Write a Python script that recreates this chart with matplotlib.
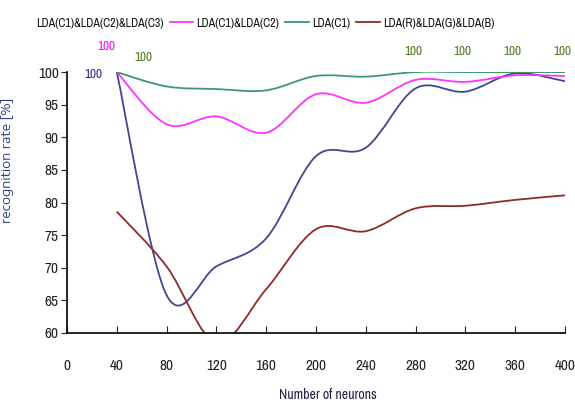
import numpy as np
import matplotlib.pyplot as plt
from matplotlib.path import Path
from matplotlib.patches import PathPatch
from matplotlib.lines import Line2D

plt.rcParams['font.family'] = ['Archivo Narrow', 'Liberation Sans', 'DejaVu Sans']

# данные
neurons = [40, 80, 120, 160, 200, 240, 280, 320, 360, 400]
lda_c123 = [100, 65.8, 70.2, 74.5, 87.1, 88.4, 97.5, 97.0, 99.8, 98.6]
lda_c12 = [100, 92.0, 93.2, 90.7, 96.6, 95.3, 98.8, 98.5, 99.5, 99.4]
lda_c1 = [100, 97.8, 97.4, 97.2, 99.4, 99.3, 100, 100, 100, 100]
lda_rgb = [78.6, 70.2, 58.5, 66.7, 75.9, 75.6, 79.1, 79.5, 80.4, 81.1]

names = ['LDA(C1)&LDA(C2)&LDA(C3)', 'LDA(C1)&LDA(C2)', 'LDA(C1)', 'LDA(R)&LDA(G)&LDA(B)']
colors = ['#45458f', '#ff33ff', '#3a9a6a', '#8f2a2a']


def smooth_path(x, y):
    # кривые Безье как сглаживание в Excel (Catmull-Rom)
    p = np.column_stack([x, y]).astype(float)
    verts = [p[0]]
    codes = [Path.MOVETO]
    n = len(p)
    for i in range(n - 1):
        p0 = p[i - 1] if i > 0 else p[i]
        p3 = p[i + 2] if i + 2 < n else p[i + 1]
        c1 = p[i] + (p[i + 1] - p0) / 6
        c2 = p[i + 1] - (p3 - p[i]) / 6
        verts += [c1, c2, p[i + 1]]
        codes += [Path.CURVE4] * 3
    return Path(verts, codes)


fig = plt.figure(figsize=(5.75, 4.05), dpi=100)
ax = fig.add_axes([0.1165, 0.178, 0.866, 0.644])

for ys, c in zip([lda_c123, lda_c12, lda_c1, lda_rgb], colors):
    ax.add_patch(PathPatch(smooth_path(neurons, ys), facecolor='none', edgecolor=c, lw=1.3))

ax.set_xlim(0, 400)
ax.set_ylim(60, 100)
ax.set_xticks(range(0, 401, 40))
ax.set_yticks(range(60, 101, 5))
ax.spines['top'].set_visible(False)
ax.spines['right'].set_visible(False)
ax.spines['left'].set_linewidth(1.2)
ax.spines['bottom'].set_linewidth(1.2)
ax.tick_params(axis='x', direction='in', length=5, pad=19, labelsize=11, colors='#222222')
ax.tick_params(axis='y', direction='out', length=4, pad=2, labelsize=11, colors='#222222')
ax.set_xlabel('Number of neurons', fontsize=10, color='#222244')
ax.xaxis.set_label_coords(0.524, -0.212)
ax.set_ylabel('recognition rate [%]', fontsize=9, color='#2a3a7a', family='Encode Sans Expanded')
ax.yaxis.set_label_coords(-0.106, 0.663)

# подписи значений
kw = dict(fontsize=9.5, ha='center', va='center', clip_on=False)
ax.text(21, 99.6, '100', color='#2a2a8a', **kw)
ax.text(32, 103.9, '100', color='#ff00ff', **kw)
ax.text(61, 102.3, '100', color='#4d7a1a', **kw)
for xv in neurons[6:]:
    ax.text(xv - 2, 103.2, '100', color='#4d7a1a', **kw)

handles = [Line2D([], [], color='none')] + [Line2D([], [], color=c, lw=1.3) for c in colors[1:]]
fig.legend(handles, names, loc='center', bbox_to_anchor=(0.438, 0.943), ncol=4, frameon=False,
           fontsize=8.6, handlelength=2.0, handletextpad=0.25, columnspacing=0.5, labelcolor='#111111')

plt.savefig('out.png', dpi=100)
